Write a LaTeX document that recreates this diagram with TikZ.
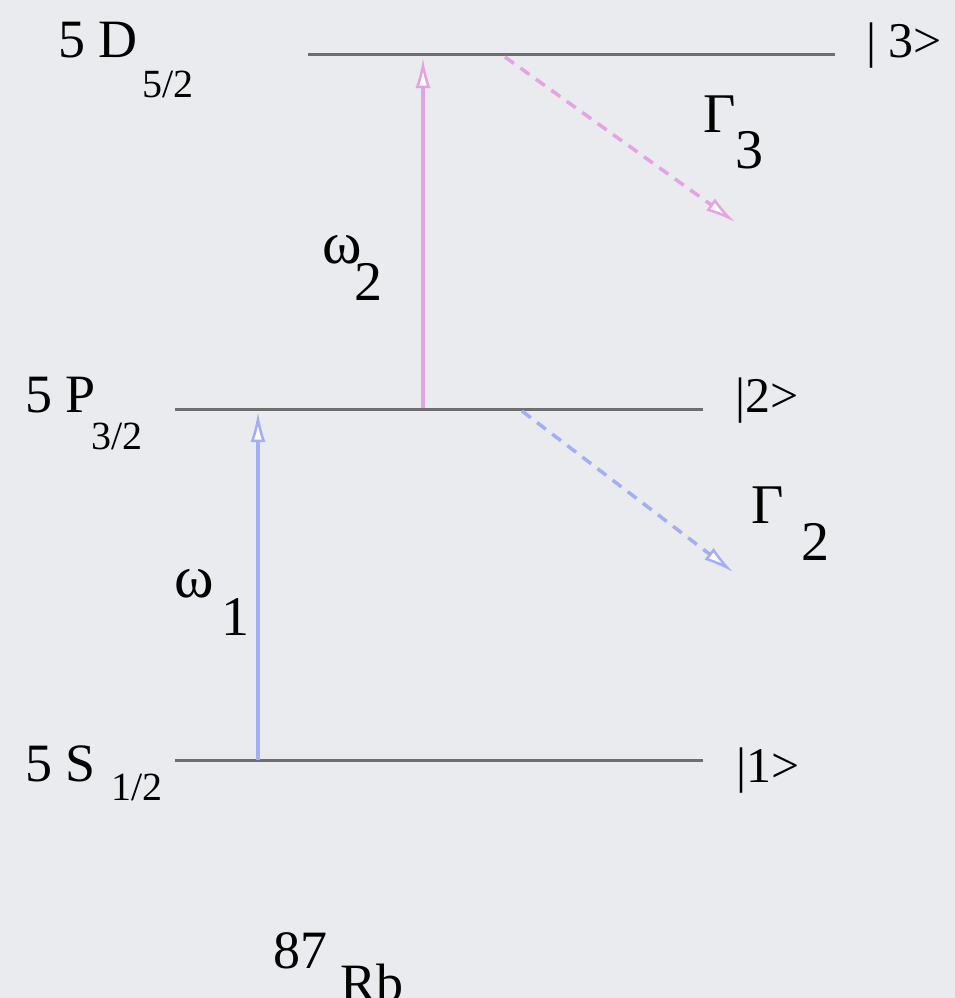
\documentclass[tikz,border=0pt]{standalone}
\usepackage{fontspec}
\setmainfont{Liberation Serif}
\usetikzlibrary{arrows.meta}
\definecolor{bgc}{HTML}{E9EBEE}
\definecolor{lvl}{HTML}{6E6E6E}
\definecolor{pinkc}{HTML}{E5A3E3}
\definecolor{bluec}{HTML}{A3AEF4}
\newcommand\szmain{\fontsize{54}{60}\selectfont}
\newcommand\szsub{\fontsize{40}{46}\selectfont}
\newcommand\szket{\fontsize{50}{56}\selectfont}
\newcommand\szidx{\fontsize{56}{62}\selectfont}
\newcommand\szomega{\fontsize{60}{66}\selectfont}
\begin{document}
\begin{tikzpicture}[x=1pt,y=-1pt,
  level/.style={draw=lvl,line width=3pt},
  lbl/.style={inner sep=0pt,anchor=base west,text=black},
  opentip/.style={-{Latex[length=30pt,width=15pt,fill=white,line width=2.5pt]}},
  pump/.style={opentip,line width=4pt},
  decay/.style={opentip,line width=3.5pt,dash pattern=on 11pt off 8pt}]
\clip (0,0) rectangle (955,998);
\fill[bgc] (0,0) rectangle (955,998);

% level end points
\coordinate (L3a) at (308,55);  \coordinate (L3b) at (835,55);
\coordinate (L2a) at (175,409); \coordinate (L2b) at (703,409);
\coordinate (L1a) at (175,760); \coordinate (L1b) at (703,760);
\draw[level] (L3a) -- (L3b);
\draw[level] (L2a) -- (L2b);
\draw[level] (L1a) -- (L1b);

% arrows
\coordinate (p2s) at (423,408); \coordinate (p2e) at (423,58);
\coordinate (p1s) at (258,760); \coordinate (p1e) at (258,412);
\coordinate (d3s) at (505,57);  \coordinate (d3e) at (735,222);
\coordinate (d2s) at (522,411); \coordinate (d2e) at (733,572);
\draw[pump,pinkc] (p2s) -- (p2e);
\draw[pump,bluec] (p1s) -- (p1e);
\draw[decay,pinkc] (d3s) -- (d3e);
\draw[decay,bluec] (d2s) -- (d2e);

% level labels
\node[lbl] (n3) at (58,58) {\szmain 5 D};
\node[lbl] (n3s) at (142,97) {\szsub 5/2};
\node[lbl] (n2) at (25,412) {\szmain 5 P};
\node[lbl] (n2s) at (91,449) {\szsub 3/2};
\node[lbl] (n1) at (25,781) {\szmain 5 S};
\node[lbl] (n1s) at (111,800) {\szsub 1/2};

% kets
\node[lbl] (k3) at (866,58) {\szket | 3>};
\node[lbl] (k2) at (735,412) {\szket |2>};
\node[lbl] (k1) at (736,782) {\szket |1>};

% rates
\node[lbl] (g3) at (703,132) {\szidx Γ};
\node[lbl] (g3s) at (735,168) {\szidx 3};
\node[lbl] (g2) at (751,523) {\szidx Γ};
\node[lbl] (g2s) at (801,560) {\szidx 2};
\node[lbl] (w2) at (322,263) {\szomega ω};
\node[lbl] (w2s) at (354,300) {\szidx 2};
\node[lbl] (w1) at (174,597) {\szomega ω};
\node[lbl] (w1s) at (221,635) {\szidx 1};

% isotope
\node[lbl] (iso) at (273,968) {\szmain 87};
\node[lbl] (el) at (340,1001) {\szmain Rb};
\end{tikzpicture}
\end{document}
